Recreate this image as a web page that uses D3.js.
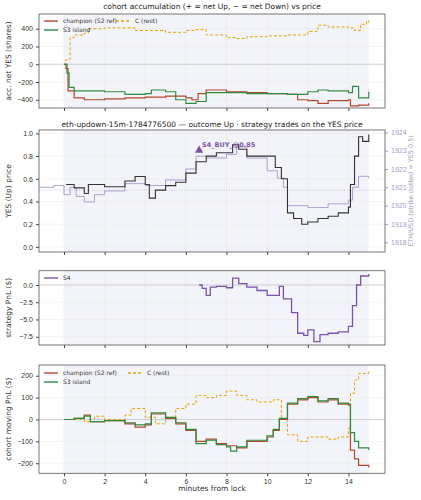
<!DOCTYPE html>
<html><head><meta charset="utf-8">
<script src="https://cdn.jsdelivr.net/npm/d3@7"></script>
<style>body{margin:0;background:#fff}svg{font-family:"DejaVu Sans",sans-serif}</style>
</head><body><svg id="c" width="421" height="500"></svg>
<script>
// [minutes, value] pairs
const accChampion = [[0,0],[0.1,-50],[0.2,-300],[0.5,-380],[1,-400],[2,-390],[3,-380],[4,-370],[5,-360],[6,-380],[6.3,-400],[6.6,-330],[7,-290],[8,-310],[9,-320],[10,-330],[11,-340],[11.5,-400],[12,-410],[12.5,-440],[13,-410],[14,-400],[14.1,-470],[14.5,-460],[15,-440]];
const accS3 = [[0,0],[0.15,-100],[0.25,-260],[0.5,-300],[2,-310],[3,-340],[4,-330],[4.3,-290],[5,-310],[5.5,-400],[6,-440],[6.5,-420],[7,-320],[8,-320],[9,-330],[10,-330],[11,-340],[12,-310],[12.5,-290],[13,-300],[14,-320],[14.2,-250],[14.5,-380],[15,-310]];
const accC = [[0,0],[0.1,50],[0.3,300],[0.5,330],[1,350],[1.2,400],[2,410],[3,410],[3.5,380],[4,380],[5,360],[6,380],[6.5,390],[7,330],[8,300],[8.5,290],[9,310],[10,320],[11,330],[12,370],[12.5,440],[13,420],[14,410],[14.3,380],[14.6,450],[14.9,490],[15,470]];
const yesPrice = [[0.1,0.55],[0.5,0.52],[1,0.47],[1.2,0.55],[2,0.53],[3,0.58],[3.5,0.62],[4,0.55],[4.2,0.43],[4.5,0.5],[5,0.54],[5.5,0.57],[6,0.65],[6.5,0.75],[7,0.8],[7.5,0.83],[8,0.83],[8.3,0.9],[8.6,0.86],[9,0.8],[10,0.8],[10.4,0.7],[10.7,0.6],[11,0.3],[11.3,0.25],[11.7,0.2],[12,0.22],[12.5,0.25],[13,0.27],[13.5,0.3],[14,0.35],[14.1,0.55],[14.3,0.8],[14.5,0.97],[14.7,0.93],[15,0.99]];
const ethPrice = [[-1.2,1921],[-0.5,1921.1],[0,1920.6],[0.3,1921],[0.6,1920.5],[1,1920.2],[1.5,1920.6],[2,1920.8],[3,1921.2],[4,1921.1],[5,1921.4],[6,1922],[6.5,1922.7],[7,1922.6],[8,1922.8],[8.5,1923.2],[9,1922.6],[10,1921.9],[10.5,1921.5],[10.8,1921],[11,1920],[12,1919.9],[13,1920.1],[14,1920.3],[14.2,1921],[14.5,1921.6],[15,1921.5]];
const trades = [{t:6.65,p:0.85,label:"S4_BUY_@0.85"}];
const s4Pnl = [[6.65,0],[6.8,-0.5],[7,-1.5],[7.2,-0.3],[7.5,-0.2],[8,-0.4],[8.3,1.0],[8.6,0.2],[9,-0.3],[9.5,-0.8],[10,-1.5],[10.5,-1.5],[10.6,-0.2],[10.8,-2.0],[11.2,-4],[11.5,-7],[11.8,-7.3],[12,-6.5],[12.3,-8.2],[12.6,-7.2],[13,-7],[13.5,-6.8],[14,-6.0],[14.2,-3],[14.4,0],[14.6,1.3],[15,1.6]];
const pnlChampion = [[0,0],[0.5,5],[1,20],[1.3,-10],[2,-5],[3,-20],[3.5,-35],[4,-25],[4.3,25],[5,5],[5.5,-20],[6,-50],[6.5,-100],[7,-90],[7.5,-110],[8,-120],[8.5,-130],[9,-100],[10,-80],[10.3,-50],[10.6,0],[11,70],[11.5,90],[12,100],[12.5,80],[13,90],[13.5,70],[14,70],[14.1,-140],[14.3,-180],[14.5,-210],[15,-220]];
const pnlS3 = [[0,0],[0.5,5],[1,15],[1.3,-10],[2,-5],[3,-15],[3.5,-25],[4,-20],[4.3,30],[5,10],[5.5,-15],[6,-45],[6.5,-110],[7,-95],[7.5,-115],[8,-125],[8.2,-145],[8.5,-125],[9,-95],[10,-75],[10.3,-45],[10.6,5],[11,75],[11.5,95],[12,105],[12.5,85],[13,95],[13.5,75],[14,65],[14.1,-60],[14.3,-100],[14.5,-130],[15,-140]];
const pnlC = [[0,0],[1,-10],[1.5,15],[2,0],[3,20],[3.3,50],[4,10],[4.5,-20],[5,10],[5.5,50],[6,70],[6.5,110],[7,100],[7.5,110],[8,130],[8.5,110],[9,90],[9.5,80],[10,80],[10.3,90],[10.7,0],[11,-70],[11.5,-100],[12,-80],[13,-90],[13.5,-80],[14,-40],[14.1,120],[14.3,180],[14.5,210],[15,220]];
const xTicks = [0,2,4,6,8,10,12,14];

const colChamp = "#b5472a", colS3 = "#2e8b3e", colC = "#e0a500", colS4 = "#7b52ab", colEth = "#a796cc";
const svg = d3.select("#c");
const L = 39, R = 385;
const x = d3.scaleLinear().domain([-1.23, 15.8]).range([L, R]);

function panel(top, bottom, domain, ticks, fmt, ylabel, labelOffset) {
  const y = d3.scaleLinear().domain(domain).range([bottom, top]);
  const g = svg.append("g");
  g.append("rect").attr("x", x(0)).attr("y", top).attr("width", x(15) - x(0)).attr("height", bottom - top).attr("fill", "#f3f4fa");
  g.selectAll(".gx").data(xTicks).join("line").attr("x1", d => x(d)).attr("x2", d => x(d)).attr("y1", top).attr("y2", bottom).attr("stroke", "#e6e6e6").attr("stroke-width", 0.5);
  g.selectAll(".gy").data(ticks).join("line").attr("y1", d => y(d)).attr("y2", d => y(d)).attr("x1", L).attr("x2", R).attr("stroke", "#e6e6e6").attr("stroke-width", 0.5);
  const ya = g.append("g").attr("transform", `translate(${L},0)`).call(d3.axisLeft(y).tickValues(ticks).tickFormat(fmt).tickSize(3));
  const xa = g.append("g").attr("transform", `translate(0,${bottom})`).call(d3.axisBottom(x).tickValues(xTicks).tickSize(3));
  [ya, xa].forEach(a => { a.select(".domain").remove(); a.selectAll("text").attr("font-size", 7).attr("fill", "#333"); a.selectAll("line").attr("stroke", "#444"); });
  g.append("text").attr("transform", `translate(${labelOffset},${(top + bottom) / 2}) rotate(-90)`).attr("text-anchor", "middle").attr("font-size", 7.5).attr("fill", "#333").text(ylabel);
  return {g, y, top, bottom, xa};
}
function frame(p) {
  p.g.append("rect").attr("x", L).attr("y", p.top).attr("width", R - L).attr("height", p.bottom - p.top).attr("fill", "none").attr("stroke", "#555").attr("stroke-width", 0.8);
}
function step(p, data, color, w, dash, yScale) {
  const ys = yScale || p.y;
  p.g.append("path").datum(data).attr("fill", "none").attr("stroke", color).attr("stroke-width", w).attr("stroke-dasharray", dash || null)
    .attr("d", d3.line().x(d => x(d[0])).y(d => ys(d[1])).curve(d3.curveStepAfter));
}
function zero(p) {
  p.g.append("line").attr("x1", L).attr("x2", R).attr("y1", p.y(0)).attr("y2", p.y(0)).attr("stroke", "#bbb").attr("stroke-width", 0.6);
}
function legend(p, items, x0, y0, colW) {
  items.forEach((it, i) => {
    const lx = x0 + Math.floor(i / 2) * colW, ly = y0 + (i % 2) * 9;
    p.g.append("line").attr("x1", lx).attr("x2", lx + 14).attr("y1", ly).attr("y2", ly).attr("stroke", it.c).attr("stroke-width", 1.4).attr("stroke-dasharray", it.dash || null);
    p.g.append("text").attr("x", lx + 19).attr("y", ly + 2.3).attr("font-size", 6).attr("fill", "#333").text(it.n);
  });
}
function title(t, yy) {
  svg.append("text").attr("x", (L + R) / 2).attr("y", yy).attr("text-anchor", "middle").attr("font-size", 7.5).attr("fill", "#222").text(t);
}

// panel 1
const p1 = panel(14, 108, [-493, 566], [-400, -200, 0, 200, 400], d3.format("d"), "acc. net YES (shares)", 11);
p1.xa.selectAll("text").remove();
zero(p1);
step(p1, accC, colC, 1, "3,2");
step(p1, accChampion, colChamp, 1.2);
step(p1, accS3, colS3, 1.2);
legend(p1, [{n:"champion (S2 ref)", c:colChamp}, {n:"S3 island", c:colS3}, {n:"C (rest)", c:colC, dash:"3,2"}], 44, 21, 72);
frame(p1);
title("cohort accumulation (+ = net Up, \u2212 = net Down) vs price", 9);

// panel 2
const p2 = panel(130, 252, [-0.045, 1.03], [0, 0.2, 0.4, 0.6, 0.8, 1.0], d3.format(".1f"), "YES (Up) price", 11);
p2.xa.selectAll("text").remove();
const yEth = d3.scaleLinear().domain([1918, 1924]).range([242.3, 132.3]);
const ra = p2.g.append("g").attr("transform", `translate(${R},0)`).call(d3.axisRight(yEth).tickValues([1918,1919,1920,1921,1922,1923,1924]).tickFormat(d3.format("d")).tickSize(3));
ra.select(".domain").remove();
ra.selectAll("text").attr("font-size", 7).attr("fill", colEth);
ra.selectAll("line").attr("stroke", colEth);
p2.g.append("text").attr("transform", `translate(413,${(130 + 252) / 2}) rotate(-90)`).attr("text-anchor", "middle").attr("font-size", 6.5).attr("fill", colEth).text("ETH/USD (strike dotted = YES 0.5)");
p2.g.append("line").attr("x1", L).attr("x2", R).attr("y1", p2.y(0.5)).attr("y2", p2.y(0.5)).attr("stroke", "#bbb").attr("stroke-width", 0.8).attr("stroke-dasharray", "1,1.5");
step(p2, ethPrice, colEth, 0.9, null, yEth);
step(p2, yesPrice, "#333", 1.1);
trades.forEach(d => {
  p2.g.append("path").attr("d", d3.symbol(d3.symbolTriangle, 30)()).attr("transform", `translate(${x(d.t)},${p2.y(d.p)})`).attr("fill", colS4);
  p2.g.append("text").attr("x", x(d.t) + 3).attr("y", p2.y(d.p) - 3).attr("font-size", 6.5).attr("font-weight", "bold").attr("fill", colS4).text(d.label);
});
frame(p2);
title("eth-updown-15m-1784776500 \u2014 outcome Up \u00b7 strategy trades on the YES price", 127);

// panel 3
const p3 = panel(270.7, 345, [-8.7, 2.07], [-7.5, -5, -2.5, 0], d3.format(".1f"), "strategy PnL ($)", 11);
p3.xa.selectAll("text").remove();
zero(p3);
step(p3, s4Pnl, colS4, 1.3);
legend(p3, [{n:"S4", c:colS4}], 44, 278, 60);
frame(p3);

// panel 4
const p4 = panel(365, 473.3, [-246, 249], [-200, -100, 0, 100, 200], d3.format("d"), "cohort moving PnL ($)", 11);
zero(p4);
step(p4, pnlC, colC, 1, "3,2");
step(p4, pnlChampion, colChamp, 1.2);
step(p4, pnlS3, colS3, 1.2);
legend(p4, [{n:"champion (S2 ref)", c:colChamp}, {n:"S3 island", c:colS3}, {n:"C (rest)", c:colC, dash:"3,2"}], 44, 373, 84);
frame(p4);
svg.append("text").attr("x", (L + R) / 2).attr("y", 491).attr("text-anchor", "middle").attr("font-size", 7.5).attr("fill", "#333").text("minutes from lock");
</script></body></html>
